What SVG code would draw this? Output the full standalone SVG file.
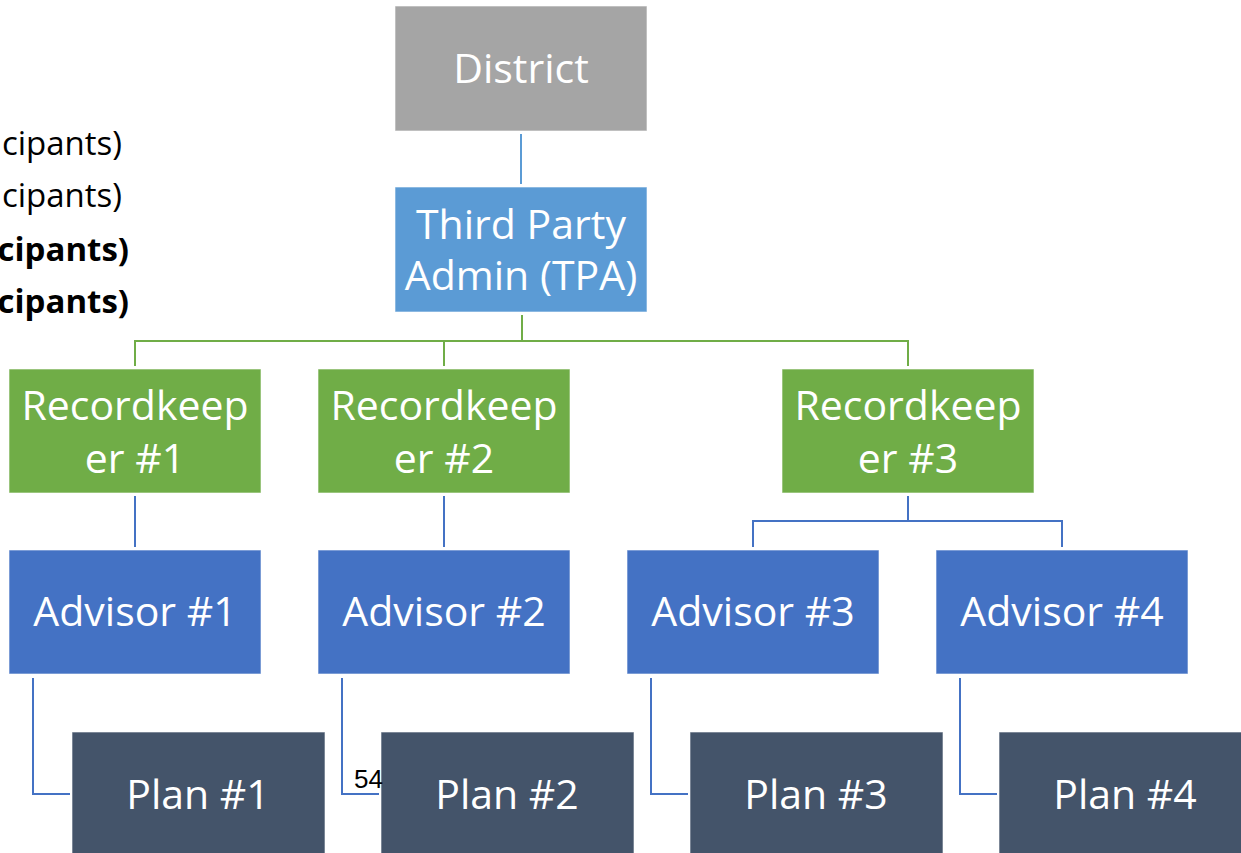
<svg xmlns="http://www.w3.org/2000/svg" width="1241" height="853" viewBox="0 0 1241 853">
<style>
.n{font-family:"Open Sans","Noto Sans",sans-serif;font-size:41px;fill:#fff;text-anchor:middle}
.side{font-family:"Open Sans","Noto Sans",sans-serif;font-size:33px;fill:#000;text-anchor:end}
.b{font-weight:bold}
.box{stroke:#fff;stroke-width:1;stroke-opacity:0.6}
.c{fill:none;stroke-width:2}
</style>
<rect width="1241" height="853" fill="#fff"/>
<g id="side-text">
<text class="side" x="122" y="155">cipants)</text>
<text class="side" x="122" y="207">cipants)</text>
<text class="side b" x="129" y="261">cipants)</text>
<text class="side b" x="129" y="313">cipants)</text>
</g>
<g id="connectors">
<path class="c" stroke="#5B9BD5" d="M521,134V184"/>
<path class="c" stroke="#70AD47" d="M522,315V341M135,341H908M135,340V366M444,340V366M908,340V366"/>
<path class="c" stroke="#4472C4" d="M135,496V547M444,496V547M908,496V521M753,521H1062M753,520V547M1062,520V547"/>
<path class="c" stroke="#4472C4" d="M33,678V794H70M342,678V794H379M651,678V794H688M960,678V794H997"/>
</g>
<g id="district"><rect class="box" x="395" y="6" width="252" height="125" fill="#A5A5A5"/><text class="n" x="521" y="83">District</text></g>
<g id="tpa"><rect class="box" x="395" y="187" width="252" height="125" fill="#5B9BD5"/><text class="n" x="521" y="239">Third Party</text><text class="n" x="521" y="290">Admin (TPA)</text></g>
<g id="rk1"><rect class="box" x="9" y="369" width="252" height="124" fill="#70AD47"/><text class="n" x="135" y="420">Recordkeep</text><text class="n" x="135" y="473">er #1</text></g>
<g id="rk2"><rect class="box" x="318" y="369" width="252" height="124" fill="#70AD47"/><text class="n" x="444" y="420">Recordkeep</text><text class="n" x="444" y="473">er #2</text></g>
<g id="rk3"><rect class="box" x="782" y="369" width="252" height="124" fill="#70AD47"/><text class="n" x="908" y="420">Recordkeep</text><text class="n" x="908" y="473">er #3</text></g>
<g id="adv1"><rect class="box" x="9" y="550" width="252" height="124" fill="#4472C4"/><text class="n" x="135" y="626">Advisor #1</text></g>
<g id="adv2"><rect class="box" x="318" y="550" width="252" height="124" fill="#4472C4"/><text class="n" x="444" y="626">Advisor #2</text></g>
<g id="adv3"><rect class="box" x="627" y="550" width="252" height="124" fill="#4472C4"/><text class="n" x="753" y="626">Advisor #3</text></g>
<g id="adv4"><rect class="box" x="936" y="550" width="252" height="124" fill="#4472C4"/><text class="n" x="1062" y="626">Advisor #4</text></g>
<g id="plan1"><rect class="box" x="72" y="732" width="253" height="126" fill="#44546A"/><text class="n" x="198" y="809">Plan #1</text></g>
<g id="plan2"><rect class="box" x="381" y="732" width="253" height="126" fill="#44546A"/><text class="n" x="507" y="809">Plan #2</text></g>
<g id="plan3"><rect class="box" x="690" y="732" width="253" height="126" fill="#44546A"/><text class="n" x="816" y="809">Plan #3</text></g>
<g id="plan4"><rect class="box" x="999" y="732" width="253" height="126" fill="#44546A"/><text class="n" x="1125" y="809">Plan #4</text></g>
<text x="354" y="788" font-family="Liberation Sans, Arial, sans-serif" font-size="26" fill="#000">54</text>
</svg>
